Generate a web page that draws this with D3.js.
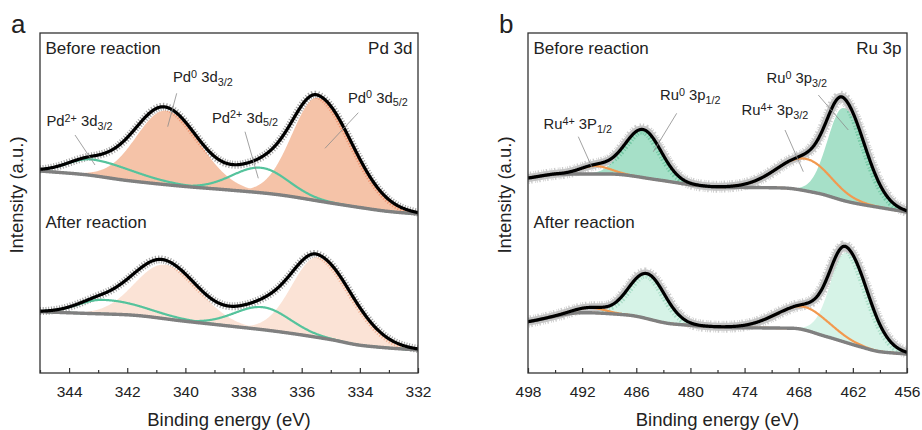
<!DOCTYPE html>
<html><head><meta charset="utf-8">
<script src="https://cdn.jsdelivr.net/npm/d3@7"></script>
<style>
html,body{margin:0;padding:0;background:#fff;}
svg{display:block;font-family:"Liberation Sans",Arial,Helvetica,sans-serif;}
</style></head><body>
<svg id="chart" width="922" height="430"></svg>
<script>
// ---------------- data ----------------
// Panel a : Pd 3d
const pdTicksMajor = [344, 342, 340, 338, 336, 334, 332];
const pdTicksMinor = [345, 343, 341, 339, 337, 335, 333];
const pdComponents = ["Pd0 3d3/2", "Pd0 3d5/2", "Pd2+ 3d3/2", "Pd2+ 3d5/2"];
const pdCenterBefore = [340.67, 335.44, 343.2, 337.4];
const pdHeightBefore = [74, 103, 16, 25];
const pdCenterAfter  = [340.7, 335.44, 342.85, 337.33];
const pdHeightAfter  = [54, 80, 14, 22.5];
const pdWidthHighBE  = [2.4, 2.1, 2.0, 2.3];   // FWHM (eV) on the high binding-energy side
const pdWidthLowBE   = [2.7, 2.76, 3.4, 2.2];  // FWHM (eV) on the low binding-energy side
const pdBgEnergy     = [345, 343.5, 342, 340, 338.5, 337, 335, 334, 333, 332];
const pdBgBefore     = [202, 198.5, 192.5, 186.5, 183, 179, 170, 165.5, 161.5, 159];
const pdBgAfter      = [61.3, 59.7, 58.2, 51.7, 47, 42.1, 33.4, 27.8, 25, 23];

// Panel b : Ru 3p
const ruTicksMajor = [498, 492, 486, 480, 474, 468, 462, 456];
const ruTicksMinor = [495, 489, 483, 477, 471, 465, 459];
const ruComponents = ["Ru0 3p1/2", "Ru0 3p3/2", "Ru4+ 3P1/2", "Ru4+ 3p3/2"];
const ruCenterBefore = [485.26, 463.0, 490.6, 467.2];
const ruHeightBefore = [48, 92.6, 8, 32];
const ruCenterAfter  = [484.8, 462.7, 491.1, 467.3];
const ruHeightAfter  = [45, 90, 5, 23];
const ruWidthHighBE  = [4.8, 4.2, 4.0, 7.5];
const ruWidthLowBE   = [4.7, 5.6, 4.0, 6.5];
const ruBgEnergyBefore = [498, 494.5, 489, 483.5, 479.7, 477, 469.7, 466, 462.4, 458.7, 456];
const ruBgBefore       = [195, 199, 199, 193, 188, 186, 185, 180, 171, 165, 161];
const ruBgEnergyAfter  = [498, 491.9, 487, 481.9, 474.2, 468.6, 464.9, 461.2, 459, 456];
const ruBgAfter        = [51.3, 60.3, 58, 49, 45.3, 44.7, 36.3, 26.3, 21.3, 19];

// ---------------- drawing ----------------
const svg = d3.select("#chart");
const defs = svg.append("defs");
const TXT = "#222";

function peak(E, c, h, wHi, wLo) {
  const w = E >= c ? wHi : wLo;
  const d = E - c;
  return h * Math.exp(-4 * Math.LN2 * d * d / (w * w));
}

// monotone cubic interpolation through the read background points
function monotone(xs, ys) {
  const pts = xs.map((v, i) => [v, ys[i]]).sort((a, b) => a[0] - b[0]);
  const X = pts.map(p => p[0]), Y = pts.map(p => p[1]), n = X.length;
  const h = [], d = [], m = new Array(n);
  for (let i = 0; i < n - 1; i++) { h[i] = X[i + 1] - X[i]; d[i] = (Y[i + 1] - Y[i]) / h[i]; }
  m[0] = d[0]; m[n - 1] = d[n - 2];
  for (let i = 1; i < n - 1; i++) {
    if (d[i - 1] * d[i] <= 0) m[i] = 0;
    else {
      const w1 = 2 * h[i] + h[i - 1], w2 = h[i] + 2 * h[i - 1];
      m[i] = (w1 + w2) / (w1 / d[i - 1] + w2 / d[i]);
    }
  }
  return function (x) {
    let i = 0;
    if (x <= X[0]) return Y[0];
    if (x >= X[n - 1]) return Y[n - 1];
    while (i < n - 2 && x > X[i + 1]) i++;
    const t = (x - X[i]) / h[i], t2 = t * t, t3 = t2 * t;
    return (2 * t3 - 3 * t2 + 1) * Y[i] + (t3 - 2 * t2 + t) * h[i] * m[i]
      + (-2 * t3 + 3 * t2) * Y[i + 1] + (t3 - t2) * h[i] * m[i + 1];
  };
}

function label(g, x, y, base, sup, base2, sub) {
  const t = g.append("text").attr("x", x).attr("y", y)
    .attr("font-size", 14.8).attr("fill", TXT);
  t.append("tspan").text(base);
  t.append("tspan").attr("font-size", 10.8).attr("dy", -4.5).text(sup);
  t.append("tspan").attr("dy", 4.5).text(base2);
  t.append("tspan").attr("font-size", 10.8).attr("dy", 3.5).text(sub);
}

const panels = [
  {
    key: "a", letter: "a", letterX: 11, left: 40, right: 418, top: 33, bottom: 373,
    domain: [345, 332], major: pdTicksMajor, minor: pdTicksMinor, core: "Pd 3d",
    widthsHi: pdWidthHighBE, widthsLo: pdWidthLowBE,
    lineColor: "#55c39c", filled: [0, 1], lined: [2, 3], dataStyle: "ticks",
    states: [
      { centers: pdCenterBefore, heights: pdHeightBefore, bgE: pdBgEnergy, bgV: pdBgBefore,
        fill: "#f5c3a8", tint: "#ee9470" },
      { centers: pdCenterAfter, heights: pdHeightAfter, bgE: pdBgEnergy, bgV: pdBgAfter,
        fill: "#fbe3d6", tint: "#f3b496" }
    ],
    labels: [
      { x: 173, y: 82, p: ["Pd", "0", " 3d", "3/2"], line: [176.7, 93.3, 167.7, 126.7] },
      { x: 46.5, y: 126, p: ["Pd", "2+", " 3d", "3/2"], line: [75, 135, 95, 165] },
      { x: 212, y: 122.7, p: ["Pd", "2+", " 3d", "5/2"], line: [245, 131.7, 258.3, 178.3] },
      { x: 348, y: 102.7, p: ["Pd", "0", " 3d", "5/2"], line: [358.3, 112.7, 325, 148.3] }
    ]
  },
  {
    key: "b", letter: "b", letterX: 499, left: 528, right: 907, top: 33, bottom: 373,
    domain: [498, 456], major: ruTicksMajor, minor: ruTicksMinor, core: "Ru 3p",
    widthsHi: ruWidthHighBE, widthsLo: ruWidthLowBE,
    lineColor: "#f2994f", filled: [0, 1], lined: [2, 3], dataStyle: "noisy",
    states: [
      { centers: ruCenterBefore, heights: ruHeightBefore, bgE: ruBgEnergyBefore, bgV: ruBgBefore,
        fill: "#a6e0c8", tint: "#74c8a4" },
      { centers: ruCenterAfter, heights: ruHeightAfter, bgE: ruBgEnergyAfter, bgV: ruBgAfter,
        fill: "#d6f3e7", tint: "#a8ddc6" }
    ],
    labels: [
      { x: 543.5, y: 129, p: ["Ru", "4+", " 3P", "1/2"], line: [578.3, 136.7, 591.7, 166.7] },
      { x: 660, y: 100, p: ["Ru", "0", " 3p", "1/2"], line: [676.7, 113.3, 653.3, 151.7] },
      { x: 741.5, y: 115, p: ["Ru", "4+", " 3p", "3/2"], line: [785, 130, 803.3, 171.7] },
      { x: 766.5, y: 83.3, p: ["Ru", "0", " 3p", "3/2"], line: [818.3, 95, 848.3, 130] }
    ]
  }
];

panels.forEach(P => {
  const g = svg.append("g");
  const x = d3.scaleLinear().domain(P.domain).range([P.left, P.right]);
  const y = d3.scaleLinear().domain([0, P.bottom - P.top]).range([P.bottom, P.top]);

  const clipId = "clip-" + P.key;
  defs.append("clipPath").attr("id", clipId)
    .append("rect").attr("x", P.left).attr("y", P.top)
    .attr("width", P.right - P.left).attr("height", P.bottom - P.top);
  const plot = g.append("g").attr("clip-path", `url(#${clipId})`);

  const N = 700;
  const Es = d3.range(N + 1).map(i => P.domain[0] + (P.domain[1] - P.domain[0]) * i / N);

  P.states.forEach((S, si) => {
    const bg = monotone(S.bgE, S.bgV);
    const comp = (k, E) => peak(E, S.centers[k], S.heights[k], P.widthsHi[k], P.widthsLo[k]);
    const env = E => bg(E) + S.centers.reduce((s, c, k) => s + comp(k, E), 0);

    const envD = d3.line().x(E => x(E)).y(E => y(env(E)))(Es);

    // raw data (gray)
    if (P.dataStyle === "ticks") {
      plot.append("path").attr("d", envD).attr("fill", "none")
        .attr("stroke", "#a3a3a3").attr("stroke-width", 8).attr("stroke-dasharray", "1.1 1.7");
    } else {
      plot.append("path").attr("d", envD).attr("fill", "none")
        .attr("stroke", "#cdcdcd").attr("stroke-width", 12).attr("stroke-dasharray", "0.9 1.6 1.4 2.4 0.7 1.1");
      plot.append("path").attr("d", envD).attr("fill", "none")
        .attr("stroke", "#c4c4c4").attr("stroke-width", 8);
    }

    // filled components
    P.filled.forEach(k => {
      const area = d3.area().x(E => x(E)).y0(E => y(bg(E))).y1(E => y(bg(E) + comp(k, E)));
      const aD = area(Es);
      plot.append("path").attr("d", aD).attr("fill", S.fill).attr("stroke", "none");
      const cid = `fc-${P.key}-${si}-${k}`;
      defs.append("clipPath").attr("id", cid).append("path").attr("d", aD);
      const tinted = plot.append("g").attr("clip-path", `url(#${cid})`);
      tinted.append("path").attr("d", envD).attr("fill", "none")
        .attr("stroke", S.tint).attr("stroke-width", P.dataStyle === "ticks" ? 8 : 10)
        .attr("stroke-dasharray", P.dataStyle === "ticks" ? "1.1 1.7" : "1 1.5 1.6 2.2");
    });

    // line components
    P.lined.forEach(k => {
      const ln = d3.line().x(E => x(E)).y(E => y(bg(E) + comp(k, E)));
      plot.append("path").attr("d", ln(Es)).attr("fill", "none")
        .attr("stroke", P.lineColor).attr("stroke-width", 2.2);
    });

    // background
    const bgLine = d3.line().x(E => x(E)).y(E => y(bg(E)));
    plot.append("path").attr("d", bgLine(Es)).attr("fill", "none")
      .attr("stroke", "#808080").attr("stroke-width", 3.4);

    // envelope
    plot.append("path").attr("d", envD).attr("fill", "none")
      .attr("stroke", "#000").attr("stroke-width", 3.2).attr("stroke-linejoin", "round");
  });

  // frame
  g.append("rect").attr("x", P.left).attr("y", P.top)
    .attr("width", P.right - P.left).attr("height", P.bottom - P.top)
    .attr("fill", "none").attr("stroke", "#333").attr("stroke-width", 1.3);

  // axes
  const axMaj = d3.axisBottom(x).tickValues(P.major).tickSize(-5).tickPadding(13)
    .tickFormat(d3.format("d"));
  const axMin = d3.axisBottom(x).tickValues(P.minor).tickSize(-3).tickFormat("");
  const gMaj = g.append("g").attr("transform", `translate(0,${P.bottom})`).call(axMaj);
  const gMin = g.append("g").attr("transform", `translate(0,${P.bottom})`).call(axMin);
  [gMaj, gMin].forEach(a => {
    a.select(".domain").remove();
    a.selectAll("line").attr("stroke", "#333").attr("stroke-width", 1.2);
  });
  gMaj.selectAll("text").attr("font-size", 15.5).attr("fill", TXT)
    .attr("font-family", '"Liberation Sans",Arial,sans-serif');

  // axis titles
  g.append("text").attr("x", (P.left + P.right) / 2).attr("y", 426)
    .attr("text-anchor", "middle").attr("font-size", 18.5).attr("fill", TXT)
    .text("Binding energy (eV)");
  g.append("text").attr("transform", `translate(${P.left - 17},195) rotate(-90)`)
    .attr("text-anchor", "middle").attr("font-size", 18.5).attr("fill", TXT)
    .text("Intensity (a.u.)");

  // panel letter
  g.append("text").attr("x", P.letterX).attr("y", 33).attr("font-size", 26).attr("fill", TXT)
    .text(P.letter);

  // in-panel texts
  g.append("text").attr("x", P.left + 5.5).attr("y", 54).attr("font-size", 17).attr("fill", TXT)
    .text("Before reaction");
  g.append("text").attr("x", P.right - 5.5).attr("y", 54).attr("font-size", 17).attr("fill", TXT)
    .attr("text-anchor", "end").text(P.core);
  g.append("text").attr("x", P.left + 5.5).attr("y", 228).attr("font-size", 17).attr("fill", TXT)
    .text("After reaction");

  // component labels and leader lines
  P.labels.forEach(L => {
    g.append("line").attr("x1", L.line[0]).attr("y1", L.line[1])
      .attr("x2", L.line[2]).attr("y2", L.line[3])
      .attr("stroke", "#8a8a8a").attr("stroke-width", 0.8);
    label(g, L.x, L.y, L.p[0], L.p[1], L.p[2], L.p[3]);
  });
});
</script>
</body></html>
